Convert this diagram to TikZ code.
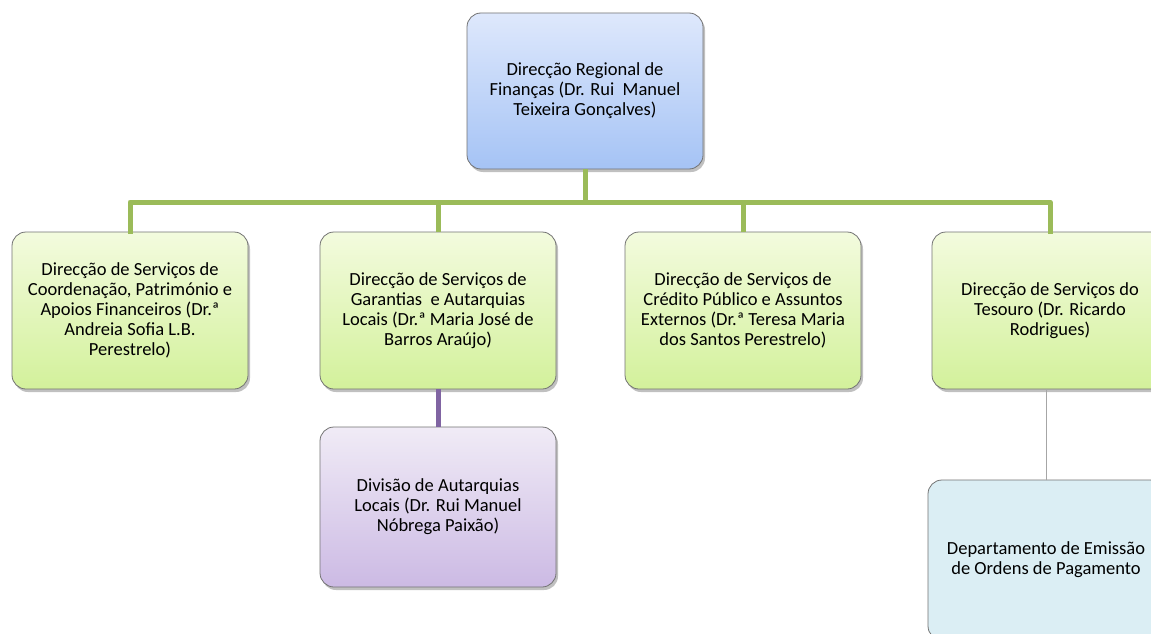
\documentclass[tikz,border=0pt]{standalone}
\usepackage{fontspec}
\setmainfont{Carlito}
\usetikzlibrary{shadows}
\definecolor{olgreen}{rgb}{0.608,0.733,0.349}
\definecolor{lilac}{rgb}{0.502,0.392,0.635}
\definecolor{bluetop}{rgb}{0.871,0.910,0.988}
\definecolor{bluebot}{rgb}{0.647,0.765,0.961}
\definecolor{greentop}{rgb}{0.953,0.984,0.871}
\definecolor{greenbot}{rgb}{0.827,0.945,0.608}
\definecolor{lilactop}{rgb}{0.941,0.922,0.965}
\definecolor{lilacbot}{rgb}{0.800,0.729,0.894}
\definecolor{paleblue}{rgb}{0.859,0.933,0.957}
\definecolor{rimgrey}{rgb}{0.45,0.45,0.45}
\begin{document}
\begin{tikzpicture}[x=1pt,y=-1pt,line cap=round,line join=round,
  box/.style={rectangle,rounded corners=14pt,draw=rimgrey,line width=0.8pt,
    minimum width=236pt,align=center,
    font=\fontsize{18.5}{20}\selectfont,
    drop shadow={shadow xshift=2pt,shadow yshift=-3pt,opacity=0.35,fill=black!70}},
  chief/.style={box,minimum height=156pt,top color=bluetop,bottom color=bluebot},
  unit/.style={box,minimum height=157pt,top color=greentop,bottom color=greenbot},
  sub/.style={box,minimum height=160pt,top color=lilactop,bottom color=lilacbot},
  dept/.style={box,minimum height=160pt,fill=paleblue}]
\useasboundingbox (0,0) rectangle (1151,634);
\clip (0,0) rectangle (1151,634);
\fill[white] (0,0) rectangle (1151,634);
% top level
\node[chief] (drf) at (585,91) {Direcção Regional de\\Finanças (Dr. Rui~ Manuel\\Teixeira Gonçalves)};
% service directorates
\node[unit] (dscp) at (130,310.5) {Direcção de Serviços de\\Coordenação, Património e\\Apoios Financeiros (Dr.ª\\Andreia Sofia L.B.\\Perestrelo)};
\node[unit] (dsga) at (438,310.5) {Direcção de Serviços de\\Garantias~ e Autarquias\\Locais (Dr.ª Maria José de\\Barros Araújo)};
\node[unit] (dscpae) at (743,310.5) {Direcção de Serviços de\\Crédito Público e Assuntos\\Externos (Dr.ª Teresa Maria\\dos Santos Perestrelo)};
\node[unit] (dst) at (1050,310.5) {Direcção de Serviços do\\Tesouro (Dr. Ricardo\\Rodrigues)};
% lower level
\node[sub] (dal) at (438,507) {Divisão de Autarquias\\Locais (Dr. Rui Manuel\\Nóbrega Paixão)};
\node[dept] (deop) at (1046,560) {Departamento de Emissão\\de Ordens de Pagamento};
% connectors
\coordinate (bus) at (585,202);
\draw [line width=5pt,olgreen,line cap=butt] (drf.south) -- (bus);
\draw [line width=5pt,olgreen,line cap=rect] (dscp.north) |- (bus) -| (dst.north);
\draw [line width=5pt,olgreen,line cap=butt] (dsga.north) -- (dsga.north |- bus);
\draw [line width=5pt,olgreen,line cap=butt] (dscpae.north) -- (dscpae.north |- bus);
\draw [line width=5pt,lilac,line cap=butt] (dsga.south) -- (dal.north);
\draw [line width=0.8pt,black!35] (dst.south -| deop.north) -- (deop.north);
\end{tikzpicture}
\end{document}
